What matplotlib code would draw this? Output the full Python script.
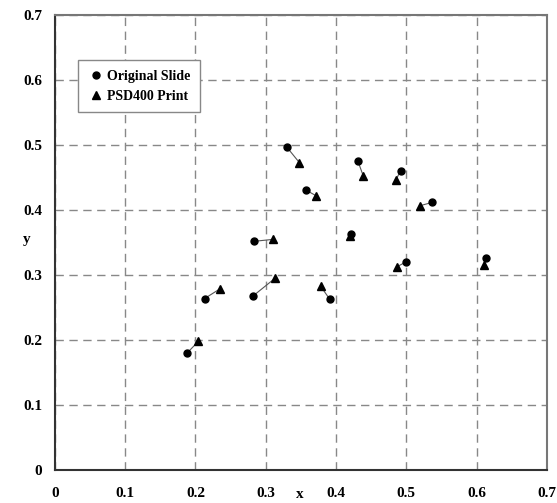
import matplotlib
matplotlib.use("Agg")
import matplotlib.pyplot as plt

# colour coordinates: original slide vs. PSD400 print
slide_x = [0.330, 0.431, 0.357, 0.492, 0.537, 0.283, 0.421, 0.499, 0.614, 0.213, 0.282, 0.391, 0.188]
slide_y = [0.497, 0.476, 0.431, 0.461, 0.412, 0.352, 0.363, 0.320, 0.327, 0.264, 0.268, 0.263, 0.180]
print_x = [0.348, 0.439, 0.372, 0.485, 0.520, 0.310, 0.420, 0.487, 0.610, 0.235, 0.313, 0.378, 0.204]
print_y = [0.473, 0.452, 0.422, 0.446, 0.407, 0.355, 0.361, 0.313, 0.315, 0.279, 0.295, 0.283, 0.198]

ticks = [0, 0.1, 0.2, 0.3, 0.4, 0.5, 0.6, 0.7]
tick_labels = ["0", "0.1", "0.2", "0.3", "0.4", "0.5", "0.6", "0.7"]

plt.rcParams['font.family'] = ['Liberation Serif', 'DejaVu Serif']

fig = plt.figure(figsize=(5.57, 5.03), dpi=100)
ax = fig.add_axes([0.0987, 0.0656, 0.883, 0.904])

for x0, y0, x1, y1 in zip(slide_x, slide_y, print_x, print_y):
    ax.plot([x0, x1], [y0, y1], color='#555555', lw=0.8, zorder=2)

ax.plot(slide_x, slide_y, 'o', color='black', ms=5, label='Original Slide', zorder=3)
ax.plot(print_x, print_y, '^', color='black', ms=6, label='PSD400 Print', zorder=4)

ax.set_xlim(0, 0.7)
ax.set_ylim(0, 0.7)
ax.set_xticks(ticks)
ax.set_yticks(ticks)
ax.set_xticklabels(tick_labels, fontsize=11, fontweight='bold')
ax.set_yticklabels(tick_labels, fontsize=11, fontweight='bold')
ax.tick_params(axis='x', length=0, pad=12)
ax.tick_params(axis='y', length=0, pad=9)

ax.grid(True, ls=(0, (6, 4)), color='#888888', lw=1)
ax.set_axisbelow(True)

for side in ['left', 'bottom']:
    ax.spines[side].set_color('#333333')
    ax.spines[side].set_linewidth(1.5)
for side in ['top', 'right']:
    ax.spines[side].set_color('#777777')
    ax.spines[side].set_linewidth(1.5)

ax.text(0.348, -0.038, 'x', fontsize=11, fontweight='bold', ha='center', va='center',
        clip_on=False)
ax.text(-0.04, 0.355, 'y', fontsize=11, fontweight='bold', ha='center', va='center',
        clip_on=False)

leg = ax.legend(loc='upper left', bbox_to_anchor=(0.047, 0.902), borderaxespad=0,
                fancybox=False, framealpha=1, edgecolor='#888888', handletextpad=0.2,
                handlelength=1.2, borderpad=0.7, labelspacing=0.5,
                prop={'size': 10, 'weight': 'bold'})
leg.get_frame().set_linewidth(1.0)

fig.savefig('out.png', dpi=100)
